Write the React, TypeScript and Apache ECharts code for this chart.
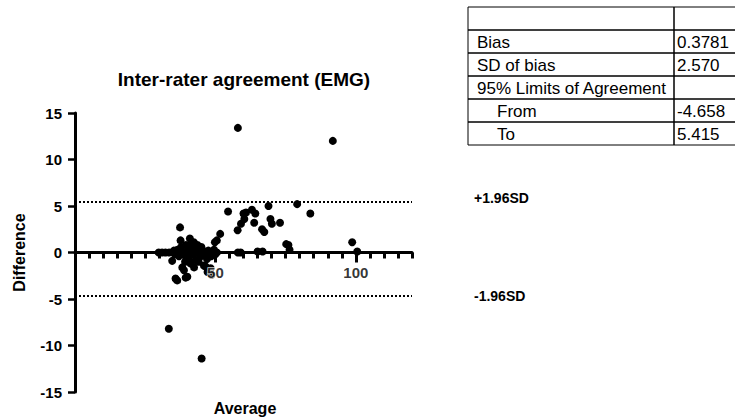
import React, { useEffect, useRef } from "react";
import * as echarts from "echarts";

const FONT = '"Liberation Sans", Arial, Helvetica, sans-serif';

// Mean of the two raters' EMG scores per subject
const averages = [
  58.0, 91.8, 33.4, 45.1, 79.1, 83.8, 68.9, 69.6, 70.1, 73.0,
  67.4, 66.6, 63.0, 64.2, 63.8, 60.9, 60.0, 60.3, 59.1, 57.9,
  54.5, 51.7, 50.5, 49.8, 75.2, 76.0, 76.4, 98.7, 100.5, 58.0,
  59.0, 65.0, 66.8, 37.4, 37.6, 40.9, 42.3, 43.6, 34.6, 38.2,
  38.8, 40.0, 36.4, 35.8, 39.4, 42.4, 45.9, 46.5, 48.3, 47.2,
  48.6, 29.8, 31.0, 32.2, 33.5, 34.8, 36.5, 37.0, 37.8, 38.5,
  39.0, 39.5, 40.0, 40.5, 41.0, 41.5, 42.0, 42.5, 43.0, 43.5,
  44.0, 44.5, 45.0, 45.5, 46.0, 46.5, 47.0, 47.5, 48.0, 48.5,
  49.0, 49.5, 50.0, 50.5, 39.2, 41.2, 44.0, 36.0, 35.2,
];

// Difference between the two raters' scores per subject
const differences = [
  13.4, 12.0, -8.2, -11.4, 5.2, 4.2, 5.0, 3.6, 3.1, 3.2,
  2.2, 2.5, 4.6, 4.2, 3.2, 4.3, 4.2, 3.6, 3.1, 2.4,
  4.4, 2.0, 1.3, 1.1, 0.9, 0.8, 0.3, 1.1, 0.1, 0.0,
  0.0, 0.1, 0.1, 2.7, 1.3, 1.5, 1.1, 0.8, -0.9, -1.6,
  -1.9, -2.6, -3.0, -2.8, -2.7, -1.6, -1.4, -1.5, -1.7, -2.1,
  -2.4, 0.0, 0.0, 0.0, 0.0, 0.0, 0.3, -0.4, 0.6, 0.0,
  -0.3, 0.8, 0.2, -0.6, 0.4, 1.0, -0.2, 0.5, -0.8, 0.0,
  0.3, -0.5, 0.6, 0.0, -0.3, 0.1, -0.7, 0.2, 0.0, -0.4,
  0.0, 0.3, -0.2, 0.0, -1.0, -1.2, -1.0, -0.2, 0.2,
];

// Summary statistics
const bias = 0.3781;
const sdOfBias = 2.57;
const lowerLimit = -4.658;
const upperLimit = 5.415;

const tableLabels = ["", "Bias", "SD of bias", "95% Limits of Agreement", "From", "To"];
const tableValues = ["", bias.toFixed(4), sdOfBias.toFixed(3), "", lowerLimit.toFixed(3), upperLimit.toFixed(3)];
const tableIndented = [false, false, false, false, true, true];

const limitLabels = ["+1.96SD", "-1.96SD"];
const limitValues = [upperLimit, lowerLimit];

const yTicks = { min: -15, max: 15, step: 5 };
const xTicks = { min: 0, max: 120, minorStep: 5, labelled: [50, 100] };

const AXIS_TEXT = { fontSize: 15, fontWeight: "bold" as const, fontFamily: FONT, color: "#000" };

function buildTable() {
  const left = 468;
  const top = 7;
  const rowH = 23;
  const divider = 674;
  const right = 820;
  const children: any[] = [];
  tableLabels.forEach((label, i) => {
    const y = top + i * rowH;
    children.push({
      type: "rect",
      shape: { x: left, y, width: divider - left, height: rowH },
      style: { fill: "none", stroke: "#000", lineWidth: 1 },
    });
    children.push({
      type: "rect",
      shape: { x: divider, y, width: right - divider, height: rowH },
      style: { fill: "none", stroke: "#000", lineWidth: 1 },
    });
    if (label) {
      children.push({
        type: "text",
        x: left + (tableIndented[i] ? 29 : 9),
        y: y + rowH / 2 + 1,
        style: { text: label, fontSize: 17, fontFamily: FONT, fill: "#000", align: "left", verticalAlign: "middle" },
      });
    }
    if (tableValues[i]) {
      children.push({
        type: "text",
        x: divider + 3,
        y: y + rowH / 2 + 1,
        style: { text: tableValues[i], fontSize: 17, fontFamily: FONT, fill: "#000", align: "left", verticalAlign: "middle" },
      });
    }
  });
  return children;
}

export default function App() {
  const ref = useRef<HTMLDivElement>(null);

  useEffect(() => {
    if (!ref.current) return;
    const chart = echarts.init(ref.current, undefined, { renderer: "svg" });
    const points = averages.map((a, i) => [a, differences[i]]);

    chart.setOption({
      animation: false,
      backgroundColor: "#fff",
      title: [
        {
          text: "Inter-rater agreement (EMG)",
          left: 239,
          top: 65,
          textAlign: "center",
          textStyle: { fontSize: 19, fontWeight: "bold", fontFamily: FONT, color: "#000" },
        },
        {
          text: "Average",
          left: 240,
          top: 395,
          textAlign: "center",
          textStyle: { fontSize: 16, fontWeight: "bold", fontFamily: FONT, color: "#000" },
        },
      ],
      grid: { left: 75, right: 323, top: 113, bottom: 27, containLabel: false, outerBoundsMode: "none" },
      xAxis: [
        {
          // major ticks (50, 100) on the zero line
          type: "value",
          min: xTicks.min,
          max: xTicks.max,
          interval: 50,
          axisLine: { onZero: true, onZeroAxisIndex: 0, lineStyle: { color: "#000", width: 3 } },
          axisTick: { length: 10, customValues: xTicks.labelled, lineStyle: { color: "#000", width: 3 } },
          axisLabel: { show: false },
          splitLine: { show: false },
        },
        {
          // minor ticks every 5
          type: "value",
          position: "bottom",
          min: xTicks.min,
          max: xTicks.max,
          interval: xTicks.minorStep,
          axisLine: { show: true, onZero: true, onZeroAxisIndex: 0, lineStyle: { color: "rgba(0,0,0,0)", width: 0 } },
          axisTick: { length: 6, lineStyle: { color: "#000", width: 3 } },
          axisLabel: { show: false },
          splitLine: { show: false },
        },
      ],
      yAxis: {
        type: "value",
        min: yTicks.min,
        max: yTicks.max,
        interval: yTicks.step,
        name: "Difference",
        nameLocation: "middle",
        nameGap: 48,
        nameTextStyle: { fontSize: 16, fontWeight: "bold", fontFamily: FONT, color: "#000" },
        axisLine: { show: true, onZero: false, lineStyle: { color: "#000", width: 3 } },
        axisTick: { show: true, length: 7, lineStyle: { color: "#000", width: 2.5 } },
        axisLabel: { margin: 13, ...AXIS_TEXT },
        splitLine: { show: false },
      },
      series: [
        {
          type: "scatter",
          xAxisIndex: 0,
          data: points,
          symbolSize: 8,
          itemStyle: { color: "#000", opacity: 1 },
          z: 3,
          markLine: {
            silent: true,
            symbol: ["none", "none"],
            lineStyle: { color: "#000", width: 2, type: [2, 2] },
            label: {
              show: true,
              position: "end",
              distance: 62,
              ...AXIS_TEXT,
              fontSize: 14,
              formatter: (p: any) => limitLabels[p.dataIndex],
            },
            data: limitValues.map((v, i) => ({
              yAxis: v,
              label: { offset: [0, i === 0 ? -4 : 0] },
            })),
          },
        },
        {
          // tick labels of the x axis, sitting under the zero line
          type: "scatter",
          xAxisIndex: 0,
          silent: true,
          symbolSize: 1,
          itemStyle: { color: "rgba(0,0,0,0)" },
          z: 4,
          label: {
            show: true,
            position: "bottom",
            distance: 12,
            ...AXIS_TEXT,
            textBorderColor: "#fff",
            textBorderWidth: 1.5,
            formatter: (p: any) => String(p.value[0]),
          },
          data: xTicks.labelled.map((v) => [v, 0]),
        },
      ],
      graphic: buildTable(),
    });

    return () => chart.dispose();
  }, []);

  return (
    <div
      ref={ref}
      style={{ position: "absolute", left: 0, top: 0, width: 735, height: 419 }}
    />
  );
}
